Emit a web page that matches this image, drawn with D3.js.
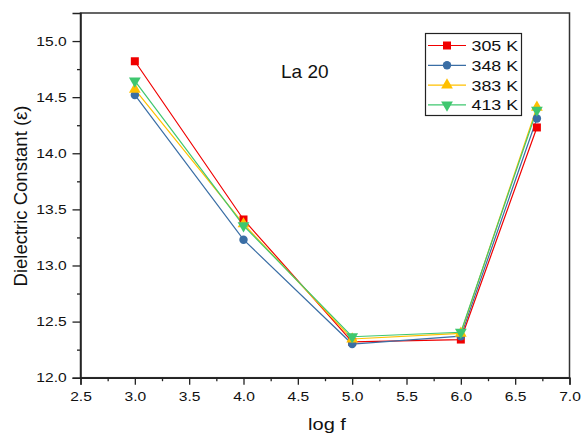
<!DOCTYPE html>
<html><head><meta charset="utf-8">
<script src="https://cdn.jsdelivr.net/npm/d3@7"></script>
<style>body{margin:0;background:#fff}svg{display:block}text{font-family:Arial,"Liberation Sans",sans-serif;fill:#111}</style>
</head><body><svg id="c" width="584" height="437"></svg>
<script>
const logF = [3.0, 4.0, 5.0, 6.0, 6.7];
const s305 = [14.82, 13.41, 12.32, 12.34, 14.23];
const s348 = [14.52, 13.23, 12.30, 12.37, 14.31];
const s383 = [14.57, 13.37, 12.345, 12.395, 14.41];
const s413 = [14.645, 13.355, 12.365, 12.405, 14.385];
const seriesNames = ["305 K", "348 K", "383 K", "413 K"];
const seriesColors = ["#f00000", "#3a6ea5", "#ffc000", "#3fc76f"];
const seriesSymbols = ["square", "circle", "up", "down"];
const xTicks = [2.5, 3.0, 3.5, 4.0, 4.5, 5.0, 5.5, 6.0, 6.5, 7.0];
const yTicks = [12.0, 12.5, 13.0, 13.5, 14.0, 14.5, 15.0];
const allSeries = [s305, s348, s383, s413];

const svg = d3.select("#c");
const L = 80.5, R = 569.5, T = 13, B = 377.7;
const SX = 1.2;
const x = d3.scaleLinear().domain([2.5, 7.0]).range([L, R]);
const y = d3.scaleLinear().domain([12.0, 15.25]).range([B, T]);

// frame
svg.append("rect").attr("x", L).attr("y", T).attr("width", R - L).attr("height", B - T)
  .attr("fill", "none").attr("stroke", "#333").attr("stroke-width", 1.5);

// axes
const minorX = d3.range(2.75, 7.0, 0.5);
const minorY = d3.range(12.25, 15.25, 0.5);
svg.append("g").attr("class", "xa").attr("transform", `translate(0,${B})`)
  .call(d3.axisBottom(x).tickValues(xTicks).tickFormat(d3.format(".1f")).tickSize(7).tickPadding(7));
svg.append("g").attr("transform", `translate(0,${B})`)
  .call(d3.axisBottom(x).tickValues(minorX).tickFormat("").tickSize(3.5))
  .call(g => g.select(".domain").remove());
svg.append("g").attr("class", "ya").attr("transform", `translate(${L},0)`)
  .call(d3.axisLeft(y).tickValues(yTicks).tickFormat(d3.format(".1f")).tickSize(8).tickPadding(6));
svg.append("g").attr("transform", `translate(${L},0)`)
  .call(d3.axisLeft(y).tickValues(minorY).tickFormat("").tickSize(3.5))
  .call(g => g.select(".domain").remove());
svg.selectAll(".domain").attr("stroke", "#222").attr("stroke-width", 1.5);
svg.selectAll(".tick line").attr("stroke", "#222").attr("stroke-width", 1.3);
svg.selectAll(".tick text").attr("font-size", 13).attr("fill", "#111")
  .attr("font-family", "Arial, 'Liberation Sans', sans-serif");
svg.selectAll(".xa .tick text").attr("transform", `scale(${SX},1)`);
svg.selectAll(".ya .tick text").attr("x", 0).attr("transform", `translate(-13.8,0) scale(${SX},1)`);

// axis titles
svg.append("text").attr("transform", `translate(327,430) scale(1.18,1)`).attr("text-anchor", "middle")
  .attr("font-size", 17).text("log f");
svg.append("text").attr("transform", "translate(26.5,196) rotate(-90)").attr("text-anchor", "middle")
  .attr("font-size", 18.5).text("Dielectric Constant (ε)");

// annotation
svg.append("text").attr("x", 281).attr("y", 78).attr("font-size", 19).text("La 20");

function symbolPath(kind) {
  const map = {square: [d3.symbolSquare, 64], circle: [d3.symbolCircle, 56], up: [d3.symbolTriangle, 60], down: [d3.symbolTriangle, 60]};
  return d3.symbol().type(map[kind][0]).size(map[kind][1])();
}

const line = d3.line().x((d, i) => x(logF[i])).y(d => y(d));
allSeries.forEach((s, k) => {
  svg.append("path").datum(s).attr("d", line).attr("fill", "none")
    .attr("stroke", seriesColors[k]).attr("stroke-width", 1.2);
});
allSeries.forEach((s, k) => {
  svg.selectAll(null).data(s).enter().append("path")
    .attr("d", symbolPath(seriesSymbols[k]))
    .attr("transform", (d, i) => `translate(${x(logF[i])},${y(d)})` + (seriesSymbols[k] === "down" ? " rotate(180)" : ""))
    .attr("fill", seriesColors[k]);
});

// legend
const lg = svg.append("g");
lg.append("rect").attr("x", 425.5).attr("y", 33.5).attr("width", 96).attr("height", 82)
  .attr("fill", "#fff").attr("stroke", "#222").attr("stroke-width", 1.2);
seriesNames.forEach((n, k) => {
  const yy = 45.5 + k * 19.8;
  lg.append("line").attr("x1", 428).attr("x2", 466).attr("y1", yy).attr("y2", yy)
    .attr("stroke", seriesColors[k]).attr("stroke-width", 1.2);
  lg.append("path").attr("d", symbolPath(seriesSymbols[k]))
    .attr("transform", `translate(447,${yy})` + (seriesSymbols[k] === "down" ? " rotate(180)" : ""))
    .attr("fill", seriesColors[k]);
  lg.append("text").attr("transform", `translate(471.5,${yy + 5.4}) scale(1.19,1)`).attr("font-size", 15).text(n);
});
</script></body></html>
